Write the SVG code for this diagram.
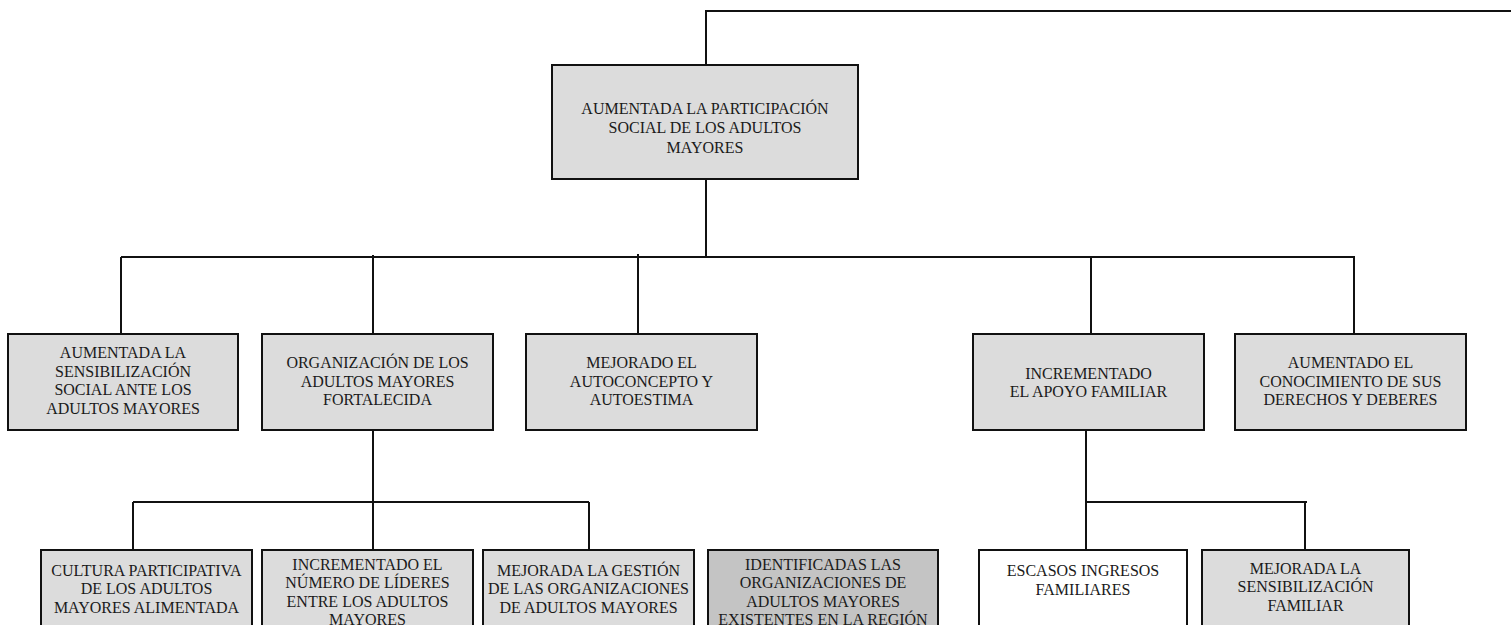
<svg xmlns="http://www.w3.org/2000/svg" width="1511" height="625" viewBox="0 0 1511 625">
<style>
.box{fill:#dcdcdc;stroke:#111;stroke-width:2}
.white{fill:#ffffff}
.dark{fill:#c4c4c4}
.ln{stroke:#111;stroke-width:2;fill:none}
text{font-family:"Liberation Serif","Times New Roman",serif;font-size:16px;fill:#1a1a1a;text-anchor:middle}
</style>
<rect width="1511" height="625" fill="#ffffff"/>
<g id="connectors">
<path class="ln" d="M706,65 V11 H1511"/>
<path class="ln" d="M706,179 V258"/>
<path class="ln" d="M121,257 H1355"/>
<path class="ln" d="M121,257 V334"/>
<path class="ln" d="M373,255 V334"/>
<path class="ln" d="M638,254 V334"/>
<path class="ln" d="M1091,257 V334"/>
<path class="ln" d="M1354,257 V334"/>
<path class="ln" d="M373,430 V550"/>
<path class="ln" d="M133,502 H589"/>
<path class="ln" d="M133,502 V550"/>
<path class="ln" d="M589,502 V550"/>
<path class="ln" d="M1086,430 V550"/>
<path class="ln" d="M1086,502 H1307"/>
<path class="ln" d="M1305,502 V550"/>
</g>
<g id="n0"><rect class="box" x="552" y="65" width="306" height="114"/>
<text x="705" y="113.5">AUMENTADA LA PARTICIPACIÓN</text><text x="705" y="133">SOCIAL DE LOS ADULTOS</text><text x="705" y="152.5">MAYORES</text></g>
<g id="n1"><rect class="box" x="8" y="334" width="230" height="96"/>
<text x="123" y="358">AUMENTADA LA</text><text x="123" y="376.5">SENSIBILIZACIÓN</text><text x="123" y="395">SOCIAL ANTE LOS</text><text x="123" y="413.5">ADULTOS MAYORES</text></g>
<g id="n2"><rect class="box" x="262" y="334" width="231" height="96"/>
<text x="377.5" y="368">ORGANIZACIÓN DE LOS</text><text x="377.5" y="386.5">ADULTOS MAYORES</text><text x="377.5" y="405">FORTALECIDA</text></g>
<g id="n3"><rect class="box" x="526" y="334" width="231" height="96"/>
<text x="641.5" y="368">MEJORADO EL</text><text x="641.5" y="386.5">AUTOCONCEPTO Y</text><text x="641.5" y="405">AUTOESTIMA</text></g>
<g id="n4"><rect class="box" x="973" y="334" width="231" height="96"/>
<text x="1088.5" y="378.5">INCREMENTADO</text><text x="1088.5" y="397">EL APOYO FAMILIAR</text></g>
<g id="n5"><rect class="box" x="1235" y="334" width="231" height="96"/>
<text x="1350.5" y="368">AUMENTADO EL</text><text x="1350.5" y="386.5">CONOCIMIENTO DE SUS</text><text x="1350.5" y="405">DERECHOS Y DEBERES</text></g>
<g id="n6"><rect class="box" x="41" y="550" width="211" height="90"/>
<text x="146.5" y="575.5">CULTURA PARTICIPATIVA</text><text x="146.5" y="594">DE LOS ADULTOS</text><text x="146.5" y="612.5">MAYORES ALIMENTADA</text></g>
<g id="n7"><rect class="box" x="262" y="550" width="211" height="90"/>
<text x="367.5" y="569.5">INCREMENTADO EL</text><text x="367.5" y="588">NÚMERO DE LÍDERES</text><text x="367.5" y="606.5">ENTRE LOS ADULTOS</text><text x="367.5" y="625">MAYORES</text></g>
<g id="n8"><rect class="box" x="483" y="550" width="211" height="90"/>
<text x="588.5" y="575.5">MEJORADA LA GESTIÓN</text><text x="588.5" y="594">DE LAS ORGANIZACIONES</text><text x="588.5" y="612.5">DE ADULTOS MAYORES</text></g>
<g id="n9"><rect class="box dark" x="708" y="550" width="230" height="90"/>
<text x="823" y="569.5">IDENTIFICADAS LAS</text><text x="823" y="588">ORGANIZACIONES DE</text><text x="823" y="606.5">ADULTOS MAYORES</text><text x="823" y="625">EXISTENTES EN LA REGIÓN</text></g>
<g id="n10"><rect class="box white" x="979" y="550" width="208" height="90"/>
<text x="1083" y="576">ESCASOS INGRESOS</text><text x="1083" y="594.5">FAMILIARES</text></g>
<g id="n11"><rect class="box" x="1202" y="550" width="207" height="90"/>
<text x="1305.5" y="573.5">MEJORADA LA</text><text x="1305.5" y="592">SENSIBILIZACIÓN</text><text x="1305.5" y="610.5">FAMILIAR</text></g>
</svg>
